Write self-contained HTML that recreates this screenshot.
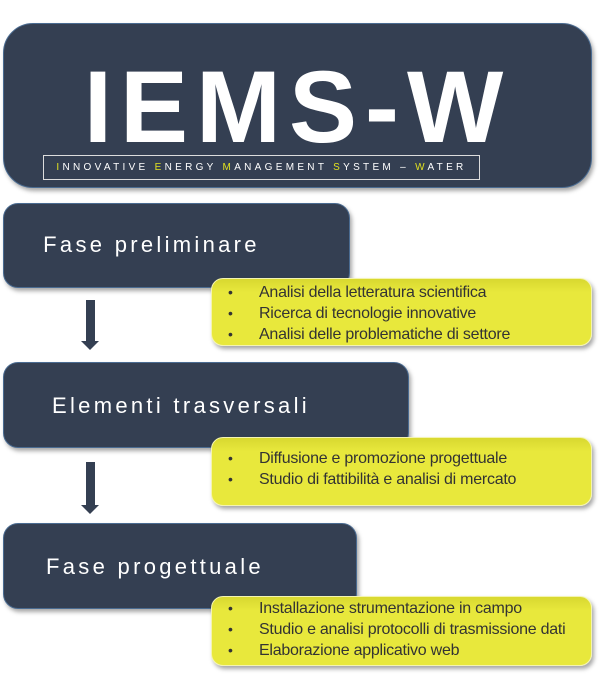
<!DOCTYPE html>
<html><head><meta charset="utf-8"><style>
body{margin:0;width:603px;height:683px;background:#fff;position:relative;overflow:hidden;font-family:"Liberation Sans",sans-serif}
.d{position:absolute;background:#343f52;border:1px solid #4a6b91;box-shadow:2px 3px 4px rgba(0,0,0,.35);color:#fff}
.h{position:absolute;left:0;right:0;text-align:center;font-size:22px;letter-spacing:3.3px;white-space:nowrap}
.y{position:absolute;left:211px;width:381px;background:linear-gradient(#d8d830,#e8e83c 20%,#e8e83c);border:1px solid #f4f4b0;border-radius:12px;box-shadow:2px 3px 4px rgba(0,0,0,.35);color:#333;font-size:16px;line-height:21px}
.y div{position:relative;padding-left:47px;white-space:nowrap;letter-spacing:-0.25px}
.y div:before{content:"•";position:absolute;left:16px;font-size:14px}
.ar{position:absolute;left:86px;width:9px;background:#343f52}
.ar:after{content:"";position:absolute;left:-5px;bottom:-8px;border-left:9.5px solid transparent;border-right:9.5px solid transparent;border-top:9px solid #343f52}
</style></head><body>
<div class="d" style="left:3px;top:23px;width:587px;height:163px;border-radius:30px">
<div style="position:absolute;left:0;right:0;top:28px;text-align:center;font-weight:bold;font-size:102px;line-height:110px;letter-spacing:8px;padding-left:0px">IEMS-W</div>
<div style="position:absolute;left:39px;top:131px;width:435px;height:23px;border:1px solid #ddd;text-align:center;font-size:10px;line-height:23px;letter-spacing:3.3px;white-space:nowrap"><span style="color:#e0e020">I</span>NNOVATIVE <span style="color:#e0e020">E</span>NERGY <span style="color:#e0e020">M</span>ANAGEMENT <span style="color:#e0e020">S</span>YSTEM – <span style="color:#e0e020">W</span>ATER</div>
</div>
<div class="d" style="left:3px;top:203px;width:345px;height:83px;border-radius:15px"><div class="h" style="top:28px;padding-right:50px">Fase preliminare</div></div>
<div class="y" style="top:278px;height:68px;padding-top:3px;box-sizing:border-box"><div>Analisi della letteratura scientifica</div><div>Ricerca di tecnologie innovative</div><div>Analisi delle problematiche di settore</div></div>
<div class="ar" style="top:300px;height:42px"></div>
<div class="d" style="left:3px;top:362px;width:404px;height:84px;border-radius:15px"><div class="h" style="top:30px;padding-right:50px">Elementi trasversali</div></div>
<div class="y" style="top:437px;height:69px;padding-top:10px;box-sizing:border-box"><div>Diffusione e promozione progettuale</div><div>Studio di fattibilità e analisi di mercato</div></div>
<div class="ar" style="top:462px;height:44px"></div>
<div class="d" style="left:3px;top:523px;width:352px;height:84px;border-radius:15px"><div class="h" style="top:30px;padding-right:50px">Fase progettuale</div></div>
<div class="y" style="top:596px;height:70px;padding-top:1px;box-sizing:border-box"><div>Installazione strumentazione in campo</div><div>Studio e analisi protocolli di trasmissione dati</div><div>Elaborazione applicativo web</div></div>
</body></html>
